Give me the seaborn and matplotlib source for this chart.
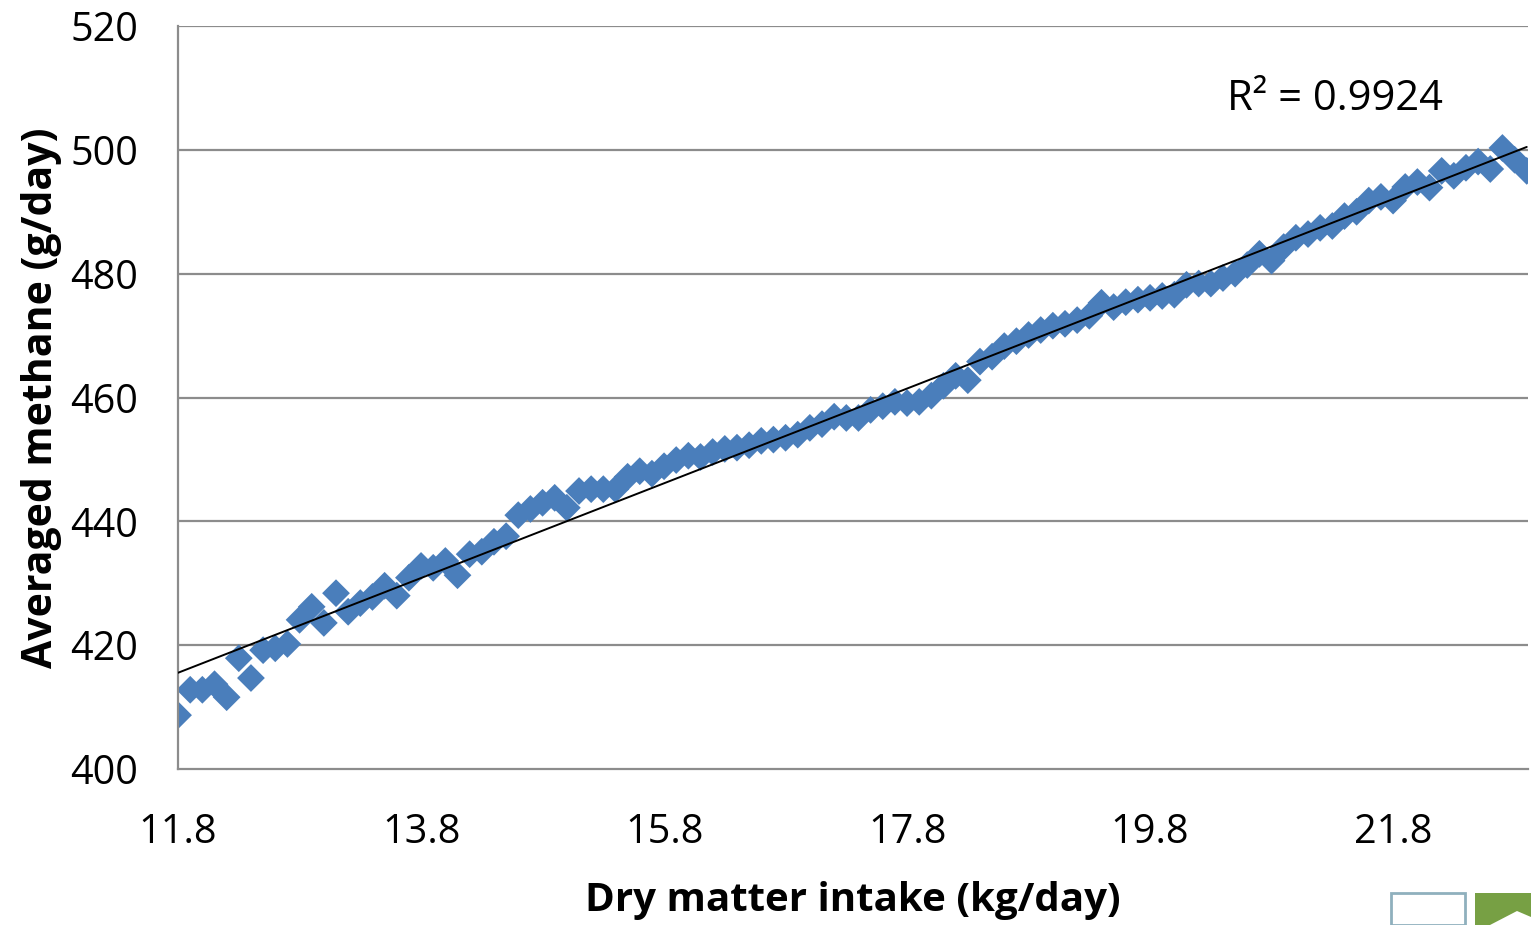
import numpy as np
import pandas as pd
import matplotlib
matplotlib.use("Agg")
import matplotlib.pyplot as plt
import seaborn as sns
from matplotlib.patches import Rectangle, Polygon

# dry matter intake (kg/day), one point every 0.1
dmi = np.round(np.arange(11.8, 22.95, 0.1), 1)

# averaged methane (g/day)
methane = [
    408.7, 412.8, 412.8, 413.7, 411.6, 417.9, 414.7, 419.2, 419.5, 420.2,
    424.1, 426.2, 423.6, 428.4, 425.4, 426.8, 427.8, 429.6, 428.0, 430.9,
    432.8, 432.5, 433.6, 431.3, 434.7, 435.1, 436.7, 437.6, 441.0, 442.0,
    443.0, 443.8, 442.2, 444.9, 445.2, 445.2, 445.2, 447.2, 448.1, 447.7,
    448.9, 449.9, 450.6, 450.4, 451.2, 451.7, 451.9, 452.3, 453.0, 453.2,
    453.5, 454.0, 455.1, 455.7, 456.9, 456.7, 456.7, 458.0, 458.6, 459.3,
    459.1, 459.3, 460.3, 461.9, 463.5, 462.8, 465.8, 466.6, 468.3, 469.1,
    470.1, 470.9, 471.6, 471.9, 472.5, 473.2, 475.3, 474.6, 475.4, 475.8,
    476.1, 476.4, 476.6, 478.2, 478.4, 478.4, 479.3, 480.0, 481.4, 483.2,
    482.1, 484.3, 485.8, 486.4, 487.4, 487.7, 489.3, 490.0, 491.8, 492.4,
    491.8, 494.0, 494.8, 493.9, 496.6, 495.8, 497.1, 498.1, 496.9, 500.3,
    498.4, 496.6,
]
n = min(len(dmi), len(methane))
df = pd.DataFrame({"dmi": dmi[:n], "methane": methane[:n]})

xticks = [11.8, 13.8, 15.8, 17.8, 19.8, 21.8]
yticks = [400, 420, 440, 460, 480, 500, 520]
r2_label = "R² = 0.9924"

sns.set_style("white")
plt.rcParams['font.family'] = ['Open Sans', 'DejaVu Sans']
plt.rcParams['text.color'] = 'black'
plt.rcParams['axes.labelcolor'] = 'black'
plt.rcParams['xtick.color'] = 'black'
plt.rcParams['ytick.color'] = 'black'

fig = plt.figure(figsize=(15.31, 9.25), dpi=100)
ax = fig.add_axes([0.1163, 0.1686, 0.8817, 0.8033])

for y in yticks[1:]:
    ax.axhline(y, color="#8c8c8c", lw=1.6, zorder=0)

sns.scatterplot(data=df, x="dmi", y="methane", marker="D", s=200,
                color="#4a7ebb", edgecolor="none", ax=ax, zorder=2)
sns.regplot(data=df, x="dmi", y="methane", scatter=False, ci=None,
            line_kws={"color": "black", "lw": 1.4, "zorder": 3}, ax=ax)

ax.set_xlim(11.8, 22.91)
ax.set_ylim(400, 520)
ax.set_xticks(xticks)
ax.set_xticklabels([f"{t:.1f}" for t in xticks])
ax.set_yticks(yticks)
ax.tick_params(axis="both", labelsize=28.5, length=9.5, width=1.6,
               color="#8c8c8c", labelcolor="black", direction="out")
ax.tick_params(axis="x", pad=22)
ax.tick_params(axis="y", pad=19)

for side in ["top", "right"]:
    ax.spines[side].set_visible(False)
for side in ["left", "bottom"]:
    ax.spines[side].set_color("#8c8c8c")
    ax.spines[side].set_linewidth(1.6)

ax.set_xlabel("Dry matter intake (kg/day)", fontsize=29, fontweight="bold",
              labelpad=20)
ax.set_ylabel("Averaged methane (g/day)", fontsize=29.5, fontweight="bold",
              labelpad=6)

ax.text(20.43, 508.2, r2_label, fontsize=30, va="center", ha="left")

# slide footer icons in the bottom-right corner
fig.patches.append(Rectangle((1391 / 1531, 0), 74 / 1531, 32 / 925,
                             transform=fig.transFigure, fill=False,
                             edgecolor="#8fb0bd", lw=2))
fig.patches.append(Rectangle((1475 / 1531, 0), 56 / 1531, 32 / 925,
                             transform=fig.transFigure, facecolor="#77a044",
                             edgecolor="none"))
fig.patches.append(Polygon([(1490 / 1531, 0), (1531 / 1531, 0),
                            (1531 / 1531, 8 / 925), (1517 / 1531, 14 / 925)],
                           closed=True, transform=fig.transFigure,
                           facecolor="white", edgecolor="none"))

fig.savefig("out.png", dpi=100)
